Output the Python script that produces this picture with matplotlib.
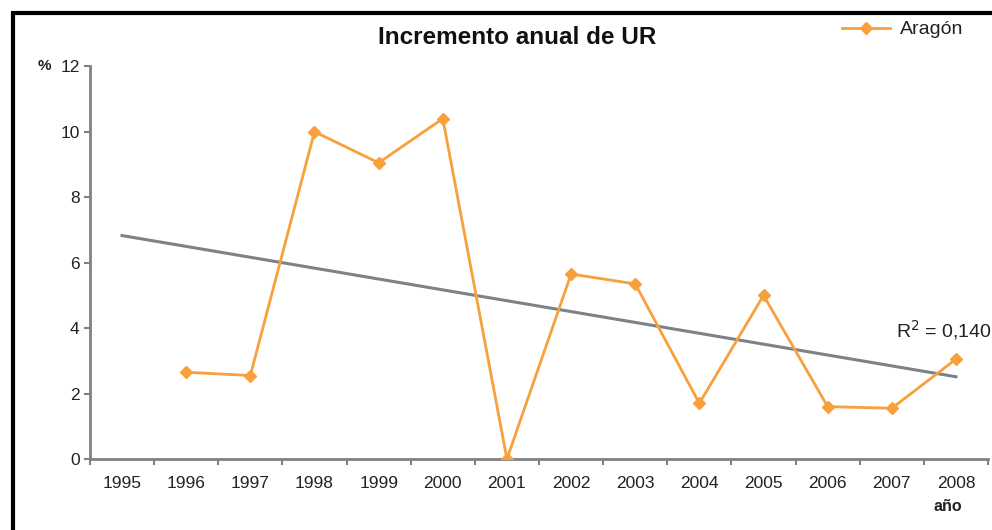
import numpy as np
import matplotlib
matplotlib.use("Agg")
import matplotlib.pyplot as plt
from matplotlib.patches import Rectangle

plt.rcParams['font.family'] = ['Liberation Sans', 'DejaVu Sans']

years = ["1995", "1996", "1997", "1998", "1999", "2000", "2001",
         "2002", "2003", "2004", "2005", "2006", "2007", "2008"]
aragon_years = years[1:]
aragon = [2.65, 2.55, 10.0, 9.05, 10.4, 0.0, 5.65, 5.35, 1.7, 5.0, 1.6, 1.55, 3.05]
yticks = [0, 2, 4, 6, 8, 10, 12]

orange = "#f7a03c"
grey = "#7d8287"

fig = plt.figure(figsize=(9.92, 5.30), dpi=100)
ax = fig.add_axes([0.0907, 0.134, 0.9053, 0.741])

pos = np.array([years.index(y) for y in aragon_years])
ax.plot(pos, aragon, color=orange, lw=2, marker="D", ms=6, label="Aragón", zorder=3)

# linear trend over the data, drawn across the whole category range
k, b = np.polyfit(pos, aragon, 1)
xt = np.arange(len(years))
ax.plot(xt, k * xt + b, color=grey, lw=2.2, zorder=2)

ax.set_xlim(-0.5, len(years) - 0.5)
ax.set_ylim(0, 12)
ax.set_yticks(yticks)
ax.set_xticks(np.arange(len(years) + 1) - 0.5, minor=False)
ax.set_xticklabels([])
ax.set_xticks(np.arange(len(years)), minor=True)
ax.set_xticklabels(years, minor=True)
ax.tick_params(axis="x", which="minor", length=0, pad=12, labelsize=12.5, labelcolor="#222222")
ax.tick_params(axis="x", which="major", length=4, width=1.5, color=grey)
ax.tick_params(axis="y", length=4, width=1.5, color=grey, labelsize=12.5, labelcolor="#222222")

for s in ["top", "right"]:
    ax.spines[s].set_visible(False)
for s in ["left", "bottom"]:
    ax.spines[s].set_color(grey)
    ax.spines[s].set_linewidth(2)

ax.text(0.897, 0.31, "R$^2$ = 0,140", transform=ax.transAxes, fontsize=14,
        color="#222222", clip_on=False)

fig.text(0.521, 0.93, "Incremento anual de UR", ha="center", va="center",
         fontsize=17.5, fontweight="bold", color="#111111")
fig.text(0.045, 0.875, "%", ha="center", va="center", fontsize=11,
         fontweight="bold", color="#222222")
fig.text(0.955, 0.044, "año", ha="center", va="center", fontsize=11.5,
         fontweight="bold", color="#222222")

leg = fig.legend(loc="center", bbox_to_anchor=(0.91, 0.944), frameon=False,
                 fontsize=14, handlelength=2.5, handletextpad=0.5)
for t in leg.get_texts():
    t.set_color("#222222")

# outer frame (cropped on the right and bottom in the original)
fig.patches.append(Rectangle((0.013, -0.1), 1.2, 1.075, transform=fig.transFigure,
                             fill=False, edgecolor="black", lw=3, zorder=10))

fig.savefig("out.png", dpi=100)
